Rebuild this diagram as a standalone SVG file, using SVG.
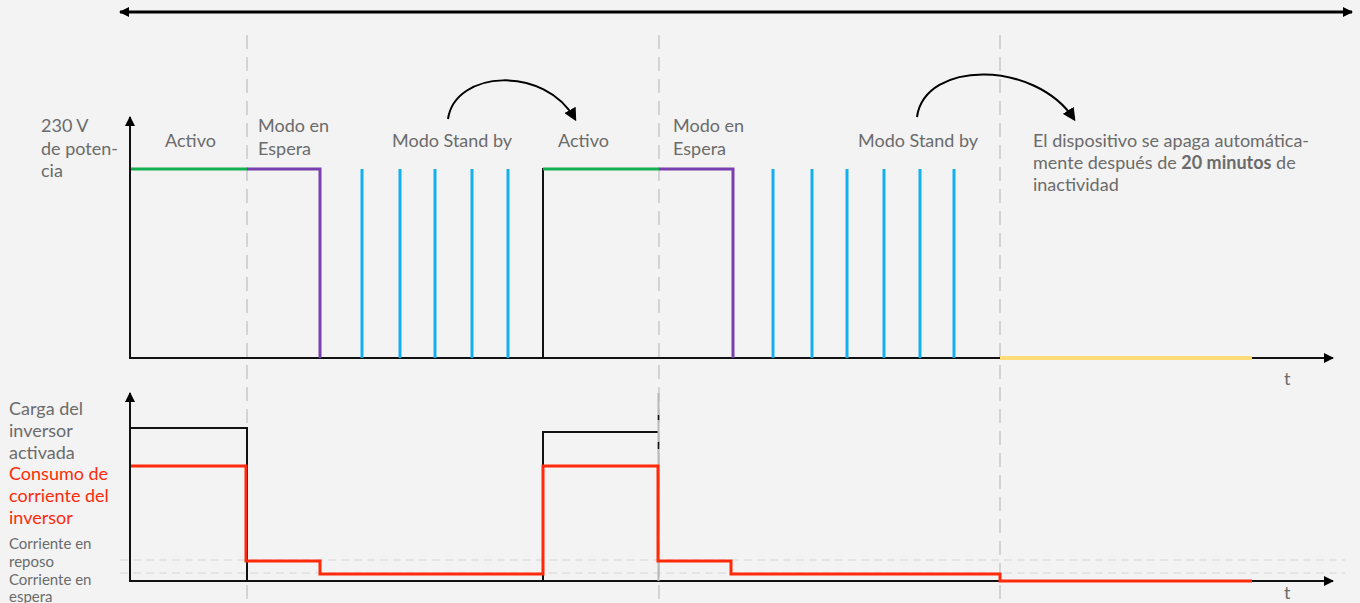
<svg xmlns="http://www.w3.org/2000/svg" width="1360" height="603" viewBox="0 0 1360 603">
<defs>
<marker id="ah" viewBox="0 0 10 10" refX="9" refY="5" markerWidth="10" markerHeight="10" markerUnits="userSpaceOnUse" orient="auto-start-reverse"><path d="M0,0 L10,5 L0,10 z" fill="#000"/></marker>
<marker id="ahc" viewBox="0 0 10 10" refX="8" refY="5" markerWidth="13" markerHeight="13" markerUnits="userSpaceOnUse" orient="auto"><path d="M0,0 L10,5 L0,10 z" fill="#000"/></marker>
<style>
.lbl{font-family:Lato,"Liberation Sans",sans-serif;font-size:18px;fill:#6b6b6b}
.sm{font-size:15px}
.red{fill:#ff2a0a}
.grid{stroke:#d3d3d3;stroke-width:2;stroke-dasharray:14 8;fill:none}
.hgrid{stroke:#d6d6d6;stroke-width:1.2;stroke-dasharray:8 5;fill:none}
.axis{stroke:#111;stroke-width:2;fill:none}
.blue{stroke:#12b0f0;stroke-width:3}
.purple{stroke:#7a3fae;stroke-width:3;fill:none}
.green{stroke:#12b050;stroke-width:3}
</style>
</defs>
<rect width="1360" height="603" fill="#f3f3f3"/>
<g id="grid">
<line class="grid" x1="247" y1="35" x2="247" y2="603"/>
<line class="grid" x1="659" y1="35" x2="659" y2="603"/>
<line class="grid" x1="1000" y1="35" x2="1000" y2="603"/>
<line class="hgrid" x1="120" y1="560" x2="1345" y2="560"/>
<line class="hgrid" x1="120" y1="573" x2="1345" y2="573"/>
</g>
<g id="connectors">
<line x1="120" y1="12" x2="1352" y2="12" stroke="#000" stroke-width="3" marker-start="url(#ah)" marker-end="url(#ah)"/>
<line class="axis" x1="130" y1="359" x2="130" y2="117" marker-end="url(#ah)"/>
<line class="axis" x1="129" y1="358" x2="1333" y2="358" marker-end="url(#ah)"/>
<line class="axis" x1="130" y1="582" x2="130" y2="393" marker-end="url(#ah)"/>
<line class="axis" x1="129" y1="581" x2="1333" y2="581" marker-end="url(#ah)"/>
<path d="M448,119 C455,70 545,65 575,119" fill="none" stroke="#000" stroke-width="2" marker-end="url(#ahc)"/>
<path d="M917,117 C925,60 1035,60 1074,119" fill="none" stroke="#000" stroke-width="2" marker-end="url(#ahc)"/>
</g>
<g id="power-signal">
<line class="green" x1="131" y1="169" x2="247" y2="169"/>
<path class="purple" d="M247,169 H320 V358"/>
<line class="blue" x1="362" y1="169" x2="362" y2="358"/>
<line class="blue" x1="400" y1="169" x2="400" y2="358"/>
<line class="blue" x1="435" y1="169" x2="435" y2="358"/>
<line class="blue" x1="472" y1="169" x2="472" y2="358"/>
<line class="blue" x1="508" y1="169" x2="508" y2="358"/>
<line x1="543" y1="168" x2="543" y2="358" stroke="#111" stroke-width="2"/>
<line class="green" x1="543" y1="169" x2="659" y2="169"/>
<path class="purple" d="M659,169 H733 V358"/>
<line class="blue" x1="773" y1="169" x2="773" y2="358"/>
<line class="blue" x1="812" y1="169" x2="812" y2="358"/>
<line class="blue" x1="847" y1="169" x2="847" y2="358"/>
<line class="blue" x1="884" y1="169" x2="884" y2="358"/>
<line class="blue" x1="920" y1="169" x2="920" y2="358"/>
<line class="blue" x1="954" y1="169" x2="954" y2="358"/>
<line x1="1000" y1="358" x2="1252" y2="358" stroke="#ffdc78" stroke-width="4"/>
</g>
<g id="load-signal">
<path d="M130,428 H247 V581" fill="none" stroke="#111" stroke-width="2"/>
<path d="M543,581 V432 H658" fill="none" stroke="#111" stroke-width="2"/>
<line x1="658.5" y1="393" x2="658.5" y2="581" stroke="#b8b8b8" stroke-width="2"/>
<line x1="658.5" y1="415" x2="658.5" y2="420" stroke="#111" stroke-width="1.5"/>
<line x1="658.5" y1="442" x2="658.5" y2="449" stroke="#111" stroke-width="1.5"/>
<path d="M131,466 H246 V561 H320 V574 H543 V466 H658 V561 H731 V574 H1000 V581 H1252" fill="none" stroke="#ff2a0a" stroke-width="3"/>
</g>
<g id="labels">
<text class="lbl" x="41" y="132">230 V</text>
<text class="lbl" x="41" y="155">de poten-</text>
<text class="lbl" x="41" y="177">cia</text>
<text class="lbl" x="165" y="147">Activo</text>
<text class="lbl" x="258" y="132">Modo en</text>
<text class="lbl" x="258" y="155">Espera</text>
<text class="lbl" x="392" y="147">Modo Stand by</text>
<text class="lbl" x="558" y="147">Activo</text>
<text class="lbl" x="673" y="132">Modo en</text>
<text class="lbl" x="673" y="155">Espera</text>
<text class="lbl" x="858" y="147">Modo Stand by</text>
<text class="lbl" x="1033" y="147">El dispositivo se apaga automática-</text>
<text class="lbl" x="1033" y="169">mente después de <tspan font-weight="bold">20 minutos</tspan> de</text>
<text class="lbl" x="1033" y="191">inactividad</text>
<text class="lbl" x="1284" y="385">t</text>
<text class="lbl" x="1284" y="599">t</text>
<text class="lbl" x="9" y="415">Carga del</text>
<text class="lbl" x="9" y="437">inversor</text>
<text class="lbl" x="9" y="459">activada</text>
<text class="lbl red" x="9" y="480">Consumo de</text>
<text class="lbl red" x="9" y="502">corriente del</text>
<text class="lbl red" x="9" y="524">inversor</text>
<text class="lbl sm" x="9" y="549">Corriente en</text>
<text class="lbl sm" x="9" y="567">reposo</text>
<text class="lbl sm" x="9" y="585">Corriente en</text>
<text class="lbl sm" x="9" y="602">espera</text>
</g>
</svg>
